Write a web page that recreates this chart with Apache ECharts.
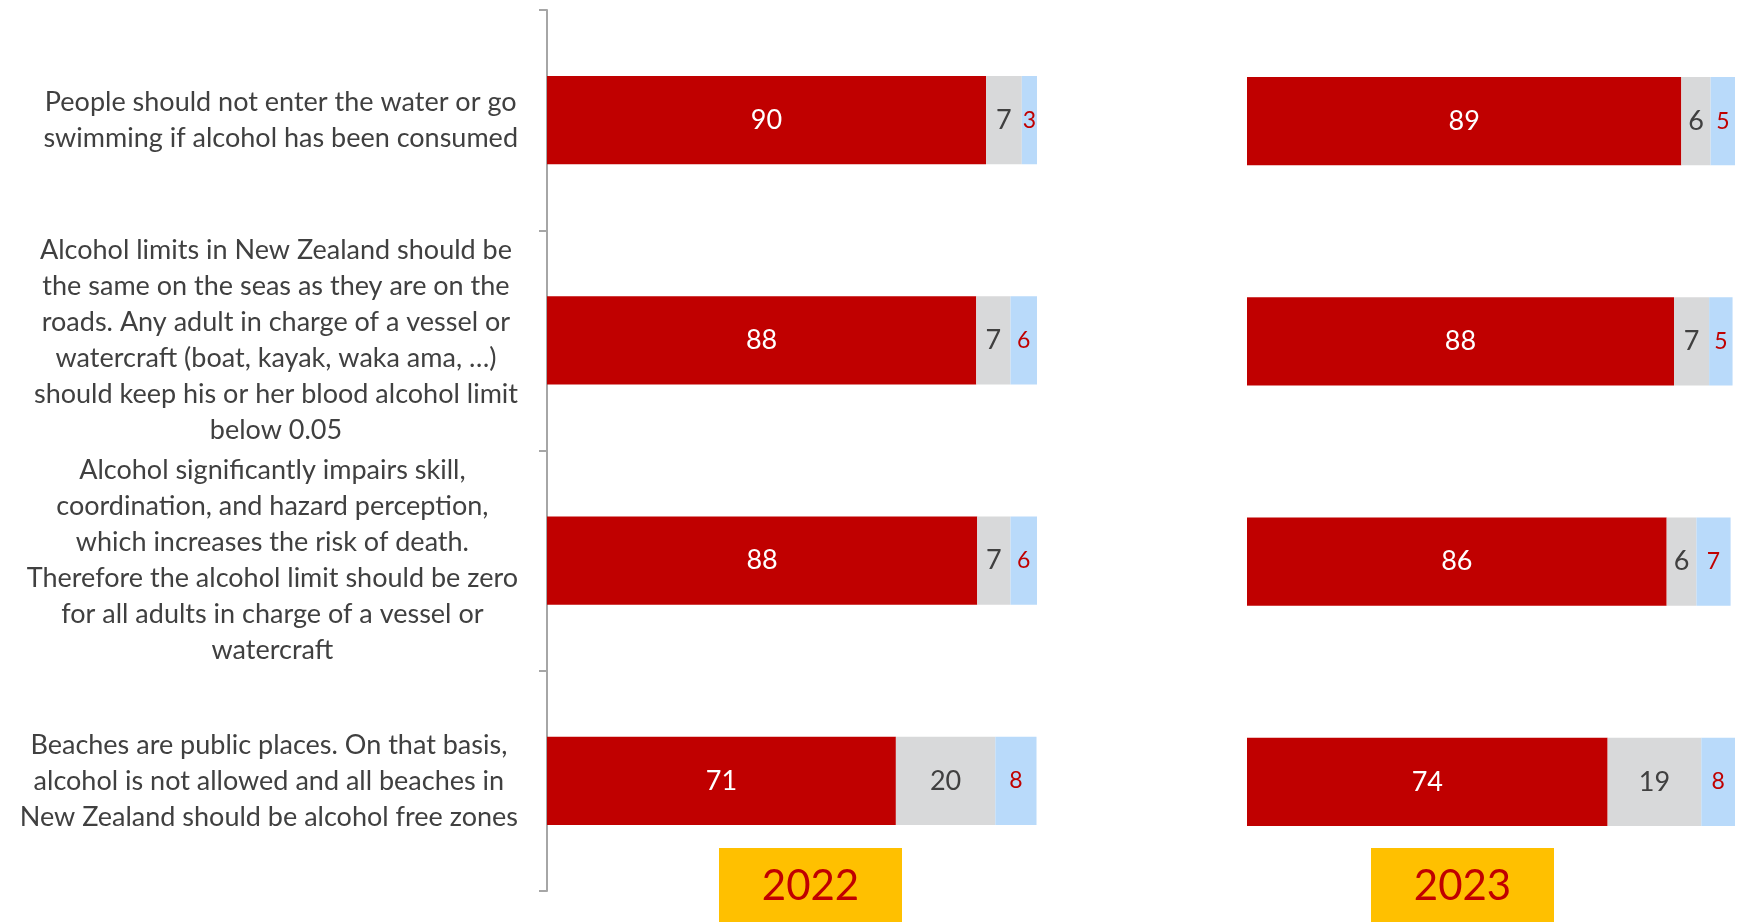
<!DOCTYPE html>
<html>
<head>
<meta charset="utf-8">
<script src="https://cdn.jsdelivr.net/npm/echarts@6/dist/echarts.min.js"></script>
<style>
  html, body { margin: 0; padding: 0; background: #fff; }
  #chart { width: 1739px; height: 922px; }
</style>
</head>
<body>
<div id="chart"></div>
<script>
const categories = [
  'People should not enter the water or go\nswimming if alcohol has been consumed',
  'Alcohol limits in New Zealand should be\nthe same on the seas as they are on the\nroads. Any adult in charge of a vessel or\nwatercraft (boat, kayak, waka ama, \u2026)\nshould keep his or her blood alcohol limit\nbelow 0.05',
  'Alcohol significantly impairs skill,\ncoordination, and hazard perception,\nwhich increases the risk of death.\nTherefore the alcohol limit should be zero\nfor all adults in charge of a vessel or\nwatercraft',
  'Beaches are public places. On that basis,\nalcohol is not allowed and all beaches in\nNew Zealand should be alcohol free zones'
]
const years = ['2022', '2023']
// percentages (labels show them rounded)
const agree2022 = [89.6, 87.6, 87.8, 71.2]
const neutral2022 = [7.3, 7.0, 6.8, 20.3]
const disagree2022 = [3.1, 5.6, 5.5, 8.4]
const agree2023 = [89.0, 87.5, 86.0, 73.9]
const neutral2023 = [6.0, 7.2, 6.1, 19.2]
const disagree2023 = [5.0, 4.8, 7.0, 7.6]

const FONT = 'Lato'
const RED = '#C00000'
const GREY = '#D8D9DA'
const BLUE = '#B9DAFA'

function makeSeries(idx, parts) {
  const styles = [
    { color: RED, text: '#fff', size: 27 },
    { color: GREY, text: '#404040', size: 27 },
    { color: BLUE, text: RED, size: 23 }
  ]
  const names = ['Agree', 'Neutral', 'Disagree']
  return parts.map((arr, k) => ({
    name: names[k],
    type: 'bar',
    stack: 'y' + idx,
    xAxisIndex: idx,
    yAxisIndex: idx,
    barCategoryGap: '60%',
    clip: true,
    itemStyle: { color: styles[k].color },
    label: {
      show: true,
      position: 'inside',
      fontFamily: FONT,
      color: styles[k].text,
      fontSize: styles[k].size,
      formatter: p => Math.round(p.value)
    },
    data: arr
  }))
}

function yearBox(x, text) {
  return {
    type: 'group',
    left: x,
    top: 848,
    children: [
      { type: 'rect', shape: { x: 0, y: 0, width: 183, height: 74 }, style: { fill: '#FFC000' } },
      {
        type: 'text', x: 91.5, y: 38,
        style: { text: text, fill: RED, fontSize: 42, fontFamily: FONT, align: 'center', verticalAlign: 'middle' }
      }
    ]
  }
}

const chart = echarts.init(document.getElementById('chart'))
const option = {
  animation: false,
  grid: [
    { left: 547, top: 10, width: 490, height: 881 },
    { left: 1247, top: 11, width: 488, height: 881 }
  ],
  xAxis: [
    { gridIndex: 0, type: 'value', min: 0, max: 100, show: false },
    { gridIndex: 1, type: 'value', min: 0, max: 100, show: false }
  ],
  yAxis: [
    {
      gridIndex: 0,
      type: 'category',
      inverse: true,
      data: categories,
      axisLine: { show: true, lineStyle: { color: '#A6A6A6', width: 2 } },
      axisTick: { show: true, length: 8, lineStyle: { color: '#A6A6A6', width: 2 } },
      axisLabel: {
        margin: 29,
        formatter: v => v.split('\n').map(l => '{c|' + l + '}').join('\n'),
        rich: {
          c: { align: 'center', fontFamily: FONT, fontSize: 27, lineHeight: 36, color: '#404040' }
        }
      }
    },
    {
      gridIndex: 1,
      type: 'category',
      inverse: true,
      data: categories,
      show: false
    }
  ],
  series: [
    ...makeSeries(0, [agree2022, neutral2022, disagree2022]),
    ...makeSeries(1, [agree2023, neutral2023, disagree2023])
  ],
  graphic: [yearBox(719, years[0]), yearBox(1371, years[1])]
}
chart.setOption(option)
</script>
</body>
</html>
